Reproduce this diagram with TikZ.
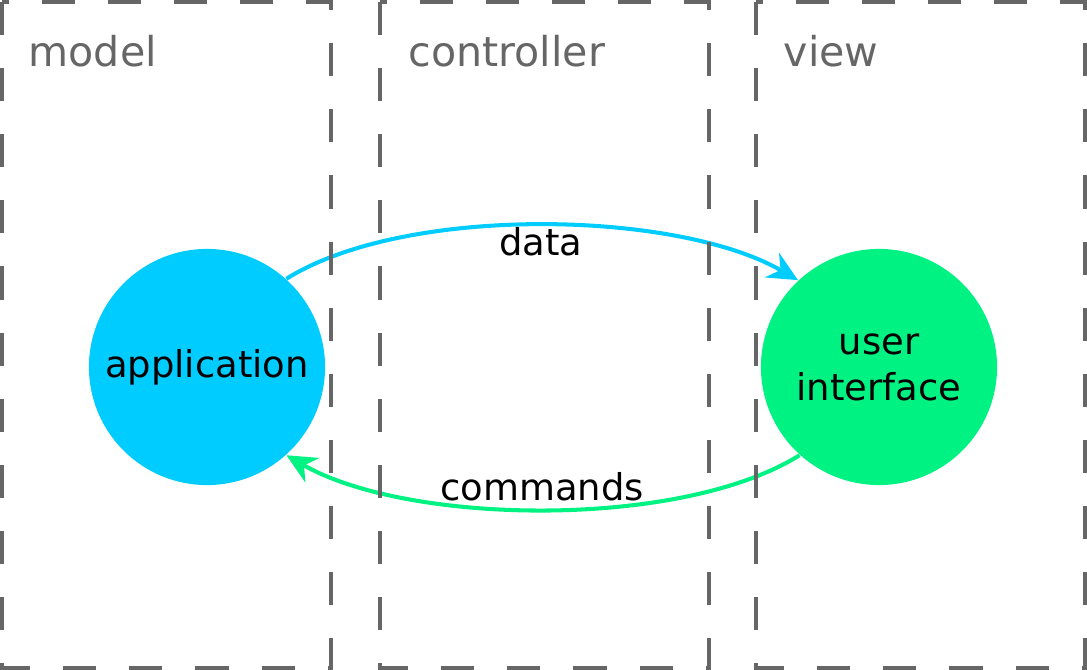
\documentclass[tikz,border=0pt]{standalone}
\usepackage{fontspec}
\setmainfont{DejaVu Sans}
\usepackage{tikz}
\usetikzlibrary{arrows.meta, positioning}
\definecolor{frame}{HTML}{666666}
\definecolor{modelc}{HTML}{00CCFF}
\definecolor{viewc}{HTML}{00F282}

\begin{document}
\begin{tikzpicture}[x=0.01cm, y=-0.01cm,
    part/.style={draw=frame, line width=1.14pt, dash pattern=on 9.4pt off 9.4pt},
    title/.style={anchor=base west, text=frame, inner sep=0pt,
                  font=\fontsize{11.7}{14}\selectfont},
    blob/.style={circle, fill=#1, minimum size=2.36cm, inner sep=0pt,
                 align=center, font=\fontsize{10.5}{13.1}\selectfont},
    lbl/.style={font=\fontsize{10.5}{13.1}\selectfont},
    arr/.style={-{Stealth[length=8.5pt, width=8pt]}, line width=1.15pt, draw=#1}
]
\useasboundingbox (0,0) rectangle (1087,670);

\node[blob=modelc] (app) at (207,367) {application};
\node[blob=viewc] (ui) at (879,367) {user\\interface};

\draw[arr=modelc] (app.48) to[out=32, in=150, looseness=0.7] (ui.133);
\draw[arr=viewc] (ui.-132) to[out=-148, in=-30, looseness=0.7] (app.-48);

\node[lbl] (data) at (541,242) {data};
\node[lbl] (cmds) at (542,487) {commands};

% layers
\draw[part] (2,2) rectangle (331,668);
\draw[part] (380,2) rectangle (709,668);
\draw[part] (756,2) rectangle (1085,668);

\node[title] (model) at (28,67) {model};
\node[title] (ctrl) at (408,67) {controller};
\node[title] (view) at (783,67) {view};
\end{tikzpicture}
\end{document}
